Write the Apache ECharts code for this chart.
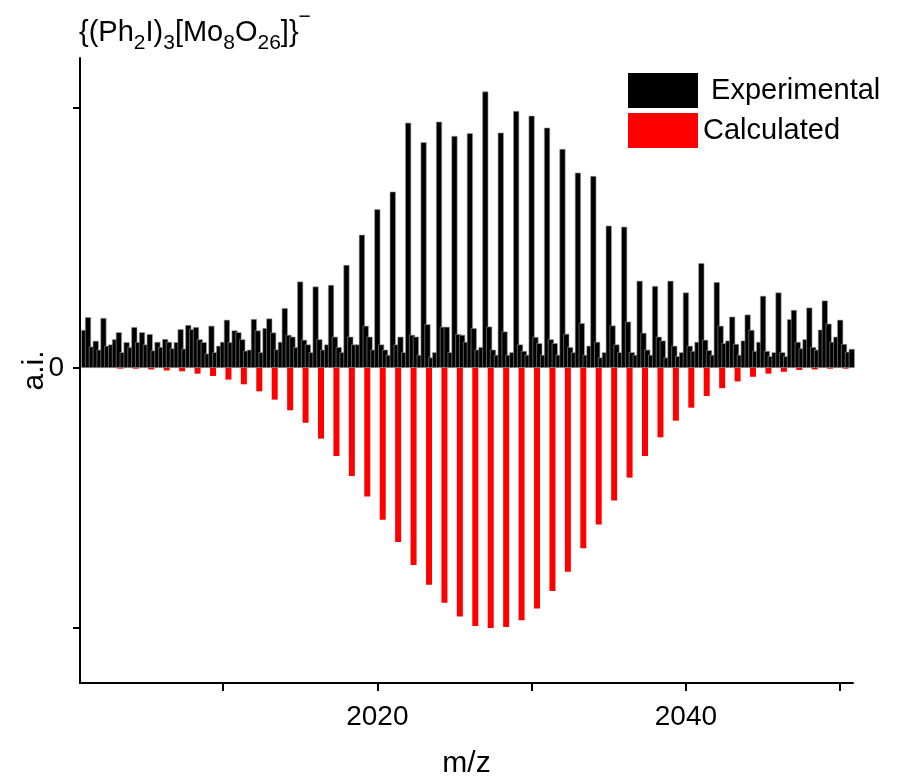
<!DOCTYPE html>
<html><head><meta charset="utf-8">
<script src="https://cdn.jsdelivr.net/npm/echarts@6/dist/echarts.min.js"></script>
<style>html,body{margin:0;padding:0;background:#fff}#c{width:900px;height:776px}</style>
</head><body><div id="c"></div>
<script>
// Experimental spectrum: m/z grid start & step, intensities
const expStart = 2001, expStep = 0.25;
const expIntensity = [
  0.146, 0.195, 0.082, 0.104,  // 2001
  0.070, 0.192, 0.085, 0.090,  // 2002
  0.110, 0.137, 0.060, 0.099,  // 2003
  0.080, 0.157, 0.099, 0.137,  // 2004
  0.090, 0.130, 0.067, 0.100,  // 2005
  0.080, 0.111, 0.100, 0.075,  // 2006
  0.099, 0.149, 0.074, 0.165,  // 2007
  0.149, 0.157, 0.110, 0.099,  // 2008
  0.055, 0.162, 0.060, 0.085,  // 2009
  0.100, 0.185, 0.099, 0.144,  // 2010
  0.137, 0.110, 0.066, 0.070,  // 2011
  0.188, 0.144, 0.060, 0.153,  // 2012
  0.190, 0.136, 0.071, 0.100,  // 2013
  0.230, 0.127, 0.120, 0.080,  // 2014
  0.332, 0.108, 0.090, 0.060,  // 2015
  0.313, 0.110, 0.070, 0.090,  // 2016
  0.319, 0.120, 0.080, 0.060,  // 2017
  0.396, 0.120, 0.090, 0.090,  // 2018
  0.512, 0.162, 0.120, 0.070,  // 2019
  0.610, 0.090, 0.070, 0.050,  // 2020
  0.678, 0.090, 0.120, 0.060,  // 2021
  0.943, 0.127, 0.120, 0.050,  // 2022
  0.868, 0.168, 0.040, 0.060,  // 2023
  0.947, 0.158, 0.158, 0.060,  // 2024
  0.892, 0.130, 0.127, 0.100,  // 2025
  0.903, 0.153, 0.070, 0.080,  // 2026
  1.063, 0.159, 0.070, 0.050,  // 2027
  0.905, 0.140, 0.050, 0.060,  // 2028
  0.988, 0.090, 0.065, 0.050,  // 2029
  0.970, 0.119, 0.095, 0.050,  // 2030
  0.924, 0.110, 0.095, 0.050,  // 2031
  0.842, 0.131, 0.080, 0.060,  // 2032
  0.751, 0.172, 0.050, 0.085,  // 2033
  0.738, 0.100, 0.040, 0.060,  // 2034
  0.547, 0.163, 0.090, 0.060,  // 2035
  0.543, 0.178, 0.060, 0.050,  // 2036
  0.335, 0.135, 0.070, 0.050,  // 2037
  0.315, 0.120, 0.105, 0.040,  // 2038
  0.335, 0.085, 0.045, 0.060,  // 2039
  0.290, 0.085, 0.065, 0.100,  // 2040
  0.403, 0.108, 0.068, 0.050,  // 2041
  0.330, 0.162, 0.095, 0.105,  // 2042
  0.197, 0.092, 0.050, 0.105,  // 2043
  0.205, 0.146, 0.065, 0.100,  // 2044
  0.277, 0.065, 0.045, 0.060,  // 2045
  0.290, 0.060, 0.045, 0.187,  // 2046
  0.223, 0.100, 0.075, 0.110,  // 2047
  0.232, 0.080, 0.070, 0.147,  // 2048
  0.259, 0.170, 0.100, 0.120,  // 2049
  0.185, 0.092, 0.062, 0.073   // 2050
];
// Calculated isotope pattern (plotted downward)
const calcStart = 2003.35, calcStep = 1;
const calcIntensity = [
  -0.003, -0.003, -0.006, -0.010, -0.013, -0.022, -0.031, -0.045,           // 2003-2010
  -0.063, -0.090, -0.122, -0.163, -0.211, -0.272, -0.339, -0.416, -0.495,   // 2011-2019
  -0.584, -0.670, -0.758, -0.834, -0.903, -0.956, -0.993, -1.000, -0.997, -0.971, // 2020-2029
  -0.925, -0.858, -0.784, -0.694, -0.602, -0.510, -0.422, -0.339, -0.267, -0.203, // 2030-2039
  -0.153, -0.108, -0.078, -0.052, -0.034, -0.022, -0.015, -0.008, -0.006, -0.003, -0.003 // 2040-2050
];
const xTickValues = [2010, 2020, 2030, 2040, 2050];
const xLabelValues = [2020, 2040];
const yTickValues = [-1, 0, 1];
const yLabelValues = [0];
const seriesNames = ['Experimental', 'Calculated'];

const FONT = "'Liberation Sans', Arial, sans-serif";
const expData = expIntensity.map((v, i) => [expStart + i * expStep, v]);
const calcData = calcIntensity.map((v, i) => [calcStart + i * calcStep, v]);

const chart = echarts.init(document.getElementById('c'), null, {renderer: 'canvas'});
chart.setOption({
  animation: false,
  backgroundColor: '#fff',
  title: {
    text: '{(Ph{s|2}I){s|3}[Mo{s|8}O{s|26}]}{p|\u2212}',
    left: 79, top: 7, padding: 0,
    textStyle: {
      fontFamily: FONT, fontSize: 29, fontWeight: 'normal', color: '#000',
      rich: {
        s: {fontFamily: FONT, fontSize: 21, color: '#000', padding: [21, 0, 0, 0]},
        p: {fontFamily: FONT, fontSize: 21, color: '#000', padding: [0, 0, 31, 0]}
      }
    }
  },
  legend: {
    data: seriesNames,
    orient: 'vertical',
    left: 628, top: 73,
    itemWidth: 70, itemHeight: 35, itemGap: 5,
    icon: 'rect',
    itemStyle: {borderWidth: 0},
    padding: 0,
    formatter: n => n === 'Experimental' ? ' ' + n : n,
    textStyle: {fontFamily: FONT, fontSize: 29, color: '#000'}
  },
  grid: {left: 80, right: 47, top: 58, bottom: 93, containLabel: false, outerBoundsMode: 'none'},
  xAxis: {
    type: 'value', min: 2000.73, max: 2050.83,
    name: 'm/z', nameLocation: 'middle', nameGap: 66, nameMoveOverlap: false,
    nameTextStyle: {fontFamily: FONT, fontSize: 30, color: '#000'},
    axisLine: {show: true, onZero: false, lineStyle: {color: '#000', width: 2}},
    axisTick: {show: true, inside: false, length: 8, customValues: xTickValues, lineStyle: {color: '#000', width: 2}},
    axisLabel: {show: true, customValues: xLabelValues, margin: 20, fontFamily: FONT, fontSize: 28, color: '#000',
      formatter: v => String(Math.round(v))},
    splitLine: {show: false}
  },
  yAxis: {
    type: 'value', min: -1.212, max: 1.192,
    name: 'a.i.', nameLocation: 'middle', nameGap: 30, nameRotate: 90, nameMoveOverlap: false,
    nameTextStyle: {fontFamily: FONT, fontSize: 30, color: '#000'},
    axisLine: {show: true, onZero: false, lineStyle: {color: '#000', width: 2}},
    axisTick: {show: true, inside: false, length: 7, customValues: yTickValues, lineStyle: {color: '#000', width: 2}},
    axisLabel: {show: true, customValues: yLabelValues, margin: 16, fontFamily: FONT, fontSize: 28, color: '#000',
      formatter: v => String(Math.round(v))},
    splitLine: {show: false}
  },
  series: [
    {
      name: seriesNames[0], type: 'bar', data: expData,
      barWidth: 6, barGap: '-100%', clip: false,
      itemStyle: {color: '#000', borderColor: '#9a9a9a', borderWidth: 0.6},
      emphasis: {disabled: true}
    },
    {
      name: seriesNames[1], type: 'bar', data: calcData,
      barWidth: 6, barGap: '-100%', clip: false,
      itemStyle: {color: '#ff0000', borderWidth: 0},
      emphasis: {disabled: true}
    }
  ]
});
</script></body></html>
